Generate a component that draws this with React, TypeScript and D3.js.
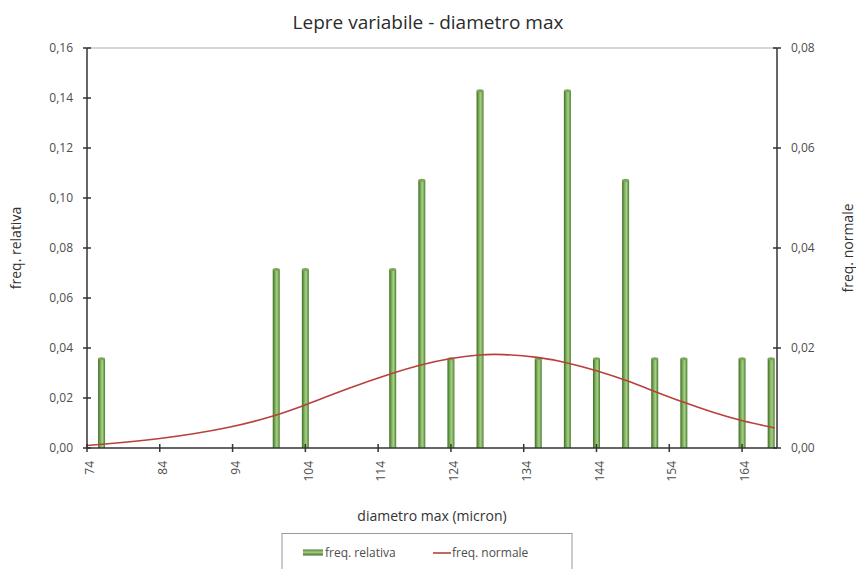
import * as d3 from "d3";

// diameter classes (micron) that have at least one observation
const diametri = [76, 100, 104, 116, 120, 124, 128, 136, 140, 144, 148, 152, 156, 164, 168];
const freqRelativa = [
  0.0357, 0.0714, 0.0714, 0.0714, 0.1071, 0.0357, 0.1429, 0.0357, 0.1429, 0.0357, 0.1071,
  0.0357, 0.0357, 0.0357, 0.0357,
];

// normal curve (right axis)
const normX = [74, 84, 94, 100, 104, 110, 116, 120, 124, 128, 131, 136, 140, 144, 148, 152, 156, 160, 164, 168.5];
const normY = [
  0.0005, 0.0017, 0.0041, 0.0065, 0.0086, 0.012, 0.015, 0.0167, 0.018, 0.0187, 0.0188, 0.0182,
  0.0171, 0.0155, 0.0136, 0.0113, 0.0091, 0.0071, 0.0054, 0.004,
];

const xTicks = [74, 84, 94, 104, 114, 124, 134, 144, 154, 164];
const yLeftTicks = [0, 0.02, 0.04, 0.06, 0.08, 0.1, 0.12, 0.14, 0.16];
const yRightTicks = [0, 0.02, 0.04, 0.06, 0.08];

const W = 856;
const H = 569;
const left = 87;
const right = 777;
const top = 48;
const bottom = 448;

const font = "'Open Sans', 'Noto Sans', sans-serif";
const fmt = (v: number) => d3.format(".2f")(v).replace(".", ",");

export default function App() {
  const x = d3.scaleLinear().domain([74, 168.8]).range([left, right]);
  const yL = d3.scaleLinear().domain([0, 0.16]).range([bottom, top]);
  const yR = d3.scaleLinear().domain([0, 0.08]).range([bottom, top]);

  const line = d3
    .line<number>()
    .x((_, i) => x(normX[i]))
    .y((d) => yR(d))
    .curve(d3.curveBasis);

  const barW = 7;

  return (
    <svg
      width={W}
      height={H}
      style={{ position: "absolute", left: 0, top: 0, background: "#fff" }}
      fontFamily={font}
    >
      <defs>
        <linearGradient id="cyl" x1="0" x2="1" y1="0" y2="0">
          <stop offset="0%" stopColor="#3f6b22" />
          <stop offset="40%" stopColor="#86b964" />
          <stop offset="62%" stopColor="#a6cf88" />
          <stop offset="100%" stopColor="#4a7c2c" />
        </linearGradient>
        <linearGradient id="cylH" x1="0" x2="0" y1="0" y2="1">
          <stop offset="0%" stopColor="#4a7c2c" />
          <stop offset="45%" stopColor="#a6cf88" />
          <stop offset="100%" stopColor="#3f6b22" />
        </linearGradient>
      </defs>

      {/* title */}
      <text x={428} y={29} textAnchor="middle" fontSize={19} fill="#2b2b2b">
        Lepre variabile - diametro max
      </text>

      {/* plot frame top */}
      <line x1={left} x2={right} y1={top} y2={top} stroke="#c8c8c8" strokeWidth={1.5} />

      {/* bars */}
      {diametri.map((d, i) => {
        const cx = x(d);
        const yt = yL(freqRelativa[i]);
        return (
          <g key={d}>
            <rect x={cx - barW / 2} y={yt} width={barW} height={bottom - yt} fill="url(#cyl)" />
            <ellipse cx={cx} cy={yt} rx={barW / 2} ry={1.5} fill="#7aa65a" />
          </g>
        );
      })}

      {/* normal curve */}
      <path d={line(normY) ?? ""} fill="none" stroke="#b8403b" strokeWidth={1.6} />

      {/* left axis */}
      <line x1={left} x2={left} y1={top} y2={bottom} stroke="#333" strokeWidth={1.5} />
      {yLeftTicks.map((t) => (
        <g key={t}>
          <line x1={left - 4} x2={left + 4} y1={yL(t)} y2={yL(t)} stroke="#333" strokeWidth={1.5} />
          <text x={left - 14} y={yL(t)} dy="0.35em" textAnchor="end" fontSize={12} fill="#4d4d4d">
            {fmt(t)}
          </text>
        </g>
      ))}

      {/* right axis */}
      <line x1={right} x2={right} y1={top} y2={bottom} stroke="#333" strokeWidth={1.5} />
      {yRightTicks.map((t) => (
        <g key={t}>
          <line x1={right - 4} x2={right + 4} y1={yR(t)} y2={yR(t)} stroke="#333" strokeWidth={1.5} />
          <text x={right + 14} y={yR(t)} dy="0.35em" textAnchor="start" fontSize={12} fill="#4d4d4d">
            {fmt(t)}
          </text>
        </g>
      ))}

      {/* bottom axis */}
      <line x1={left} x2={right} y1={bottom} y2={bottom} stroke="#333" strokeWidth={1.5} />
      {xTicks.map((t) => (
        <g key={t}>
          <line x1={x(t)} x2={x(t)} y1={bottom - 4} y2={bottom + 4} stroke="#333" strokeWidth={1.5} />
          <text
            transform={`translate(${x(t) + 3},${bottom + 13}) rotate(-90)`}
            dy="0.35em"
            textAnchor="end"
            fontSize={12}
            fill="#4d4d4d"
          >
            {t}
          </text>
        </g>
      ))}

      {/* axis titles */}
      <text x={432} y={521} textAnchor="middle" fontSize={14} fill="#333">
        diametro max (micron)
      </text>
      <text transform="translate(21,248) rotate(-90)" textAnchor="middle" fontSize={14} fill="#333">
        freq. relativa
      </text>
      <text transform="translate(853,248) rotate(-90)" textAnchor="middle" fontSize={14} fill="#333">
        freq. normale
      </text>

      {/* legend */}
      <rect x={282} y={533.5} width={290} height={45} fill="#fff" stroke="#999" strokeWidth={1} />
      <rect x={303} y={549.5} width={20} height={6} fill="url(#cylH)" />
      <text x={325} y={552.5} dy="0.35em" fontSize={12} fill="#4d4d4d">
        freq. relativa
      </text>
      <line x1={433} x2={451} y1={553} y2={553} stroke="#b8403b" strokeWidth={1.6} />
      <text x={452} y={552.5} dy="0.35em" fontSize={12} fill="#4d4d4d">
        freq. normale
      </text>
    </svg>
  );
}
